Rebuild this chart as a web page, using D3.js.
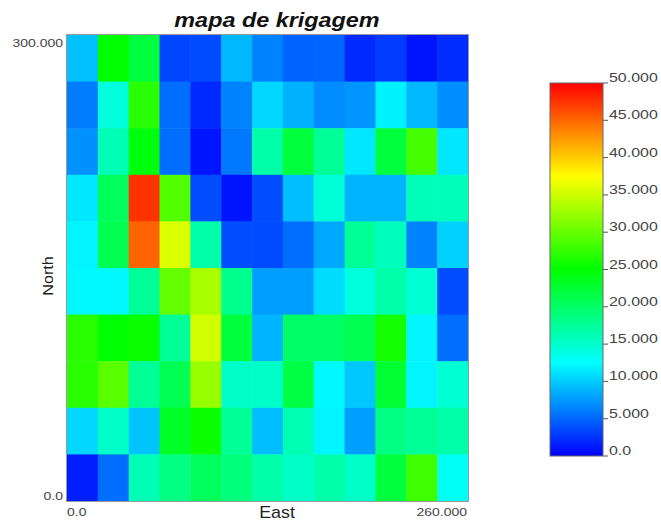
<!DOCTYPE html>
<html><head><meta charset="utf-8">
<script src="https://cdn.jsdelivr.net/npm/d3@7"></script>
<style>body{margin:0;background:#fff;} svg{display:block;font-family:"Liberation Sans",Arial,sans-serif;}</style>
</head><body>
<svg id="c" width="661" height="521"></svg>
<script>
// Grid values (rows from top/North to bottom/South, 13 columns West->East)
const rowLabels = ["r1","r2","r3","r4","r5","r6","r7","r8","r9","r10"];
const colLabels = d3.range(13).map(i => "c" + (i + 1));
const values = [
  [9.4, 25.0, 22.0, 3.4, 3.7, 9.0, 6.4, 4.9, 5.0, 2.0, 2.9, 1.0, 2.2],
  [6.1, 14.2, 27.0, 5.4, 2.0, 6.4, 10.5, 8.7, 6.9, 7.3, 11.8, 9.0, 6.9],
  [7.1, 16.2, 24.5, 5.4, 1.0, 5.9, 16.7, 22.0, 17.6, 11.3, 22.0, 28.4, 11.3],
  [11.3, 20.6, 47.5, 29.0, 3.8, 1.0, 3.8, 9.3, 14.5, 8.8, 8.8, 16.0, 16.0],
  [12.0, 21.0, 45.1, 35.8, 16.7, 3.8, 3.7, 5.4, 8.3, 17.6, 15.8, 6.4, 10.3],
  [12.2, 12.2, 17.6, 29.9, 33.3, 18.1, 7.8, 7.8, 10.8, 14.2, 16.7, 14.7, 3.8],
  [27.0, 25.0, 25.5, 17.6, 35.3, 22.0, 8.8, 20.1, 20.1, 21.0, 26.0, 12.0, 5.4],
  [27.0, 29.4, 17.6, 21.0, 32.4, 15.2, 15.2, 21.6, 12.2, 9.8, 22.5, 12.0, 14.7],
  [10.5, 15.2, 9.6, 23.0, 25.5, 17.6, 9.3, 16.2, 12.0, 7.8, 18.6, 17.6, 16.7],
  [1.5, 5.4, 16.2, 18.6, 20.6, 19.0, 16.7, 15.2, 16.7, 15.2, 22.0, 28.0, 13.0]
];
const yTickLabels = ["300.000", "0.0"];
const xTickLabels = ["0.0", "260.000"];
const legendTicks = [0, 5, 10, 15, 20, 25, 30, 35, 40, 45, 50];
const title = "mapa de krigagem";

const svg = d3.select("#c");
const plot = {x0: 67, x1: 468, y0: 35, y1: 501};

const color = d3.scaleLinear()
  .domain([0, 12.5, 25, 37.5, 50])
  .range(["#0000ff", "#00ffff", "#00ff00", "#ffff00", "#ff0000"])
  .clamp(true);

const x = d3.scaleBand().domain(colLabels).range([plot.x0, plot.x1]);
const y = d3.scaleBand().domain(rowLabels).range([plot.y0, plot.y1]);

const cells = [];
values.forEach((row, ri) => row.forEach((v, ci) => cells.push({r: rowLabels[ri], c: colLabels[ci], v})));

svg.append("g").selectAll("rect").data(cells).join("rect")
  .attr("x", d => x(d.c)).attr("y", d => y(d.r))
  .attr("width", x.bandwidth() + 0.5).attr("height", y.bandwidth() + 0.5)
  .attr("fill", d => color(d.v));

svg.append("rect")
  .attr("x", plot.x0 - 0.5).attr("y", plot.y0 - 0.5)
  .attr("width", plot.x1 - plot.x0 + 1).attr("height", plot.y1 - plot.y0 + 1)
  .attr("fill", "none").attr("stroke", "#999").attr("stroke-width", 1);

// helper: horizontally stretched text
function stext(px, py, str, opts) {
  const t = svg.append("text")
    .attr("transform", `translate(${px},${py})${opts.rot ? " rotate(" + opts.rot + ")" : ""} scale(${opts.sx || 1},1)`)
    .attr("text-anchor", opts.anchor || "start")
    .attr("font-size", opts.size).attr("fill", opts.fill || "#444")
    .text(str);
  if (opts.bold) t.attr("font-weight", "bold");
  if (opts.italic) t.attr("font-style", "italic");
  return t;
}

// Title
stext(277, 27, title, {anchor: "middle", size: 20, sx: 1.17, bold: true, italic: true, fill: "#111"});

// Axis end labels
stext(63, 47, yTickLabels[0], {anchor: "end", size: 11, sx: 1.27});
stext(63, 500, yTickLabels[1], {anchor: "end", size: 11, sx: 1.27});
stext(67, 516, xTickLabels[0], {anchor: "start", size: 11, sx: 1.27});
stext(467, 516, xTickLabels[1], {anchor: "end", size: 11, sx: 1.27});

stext(277, 518, "East", {anchor: "middle", size: 17, sx: 1.05, fill: "#222"});
stext(53, 276, "North", {anchor: "middle", size: 15, sx: 1.08, rot: -90, fill: "#222"});

// Color bar
const cb = {x: 550, w: 53, y0: 83, y1: 456};
const ly = d3.scaleLinear().domain([0, 50]).range([cb.y1, cb.y0]);
const defs = svg.append("defs");
const grad = defs.append("linearGradient").attr("id", "g")
  .attr("x1", 0).attr("y1", 1).attr("x2", 0).attr("y2", 0);
grad.selectAll("stop").data(color.domain()).join("stop")
  .attr("offset", d => d / 50).attr("stop-color", d => color(d));
svg.append("rect").attr("x", cb.x).attr("y", cb.y0).attr("width", cb.w)
  .attr("height", cb.y1 - cb.y0).attr("fill", "url(#g)")
  .attr("stroke", "#666").attr("stroke-width", 1);

const lg = svg.append("g");
lg.selectAll("line").data(legendTicks).join("line")
  .attr("x1", cb.x + cb.w).attr("x2", cb.x + cb.w + 5)
  .attr("y1", d => ly(d)).attr("y2", d => ly(d))
  .attr("stroke", "#555").attr("stroke-width", 1);
legendTicks.forEach(d => {
  stext(cb.x + cb.w + 6, ly(d) - 1, d === 0 ? "0.0" : d3.format(".3f")(d), {size: 12, sx: 1.33});
});
</script>
</body></html>
